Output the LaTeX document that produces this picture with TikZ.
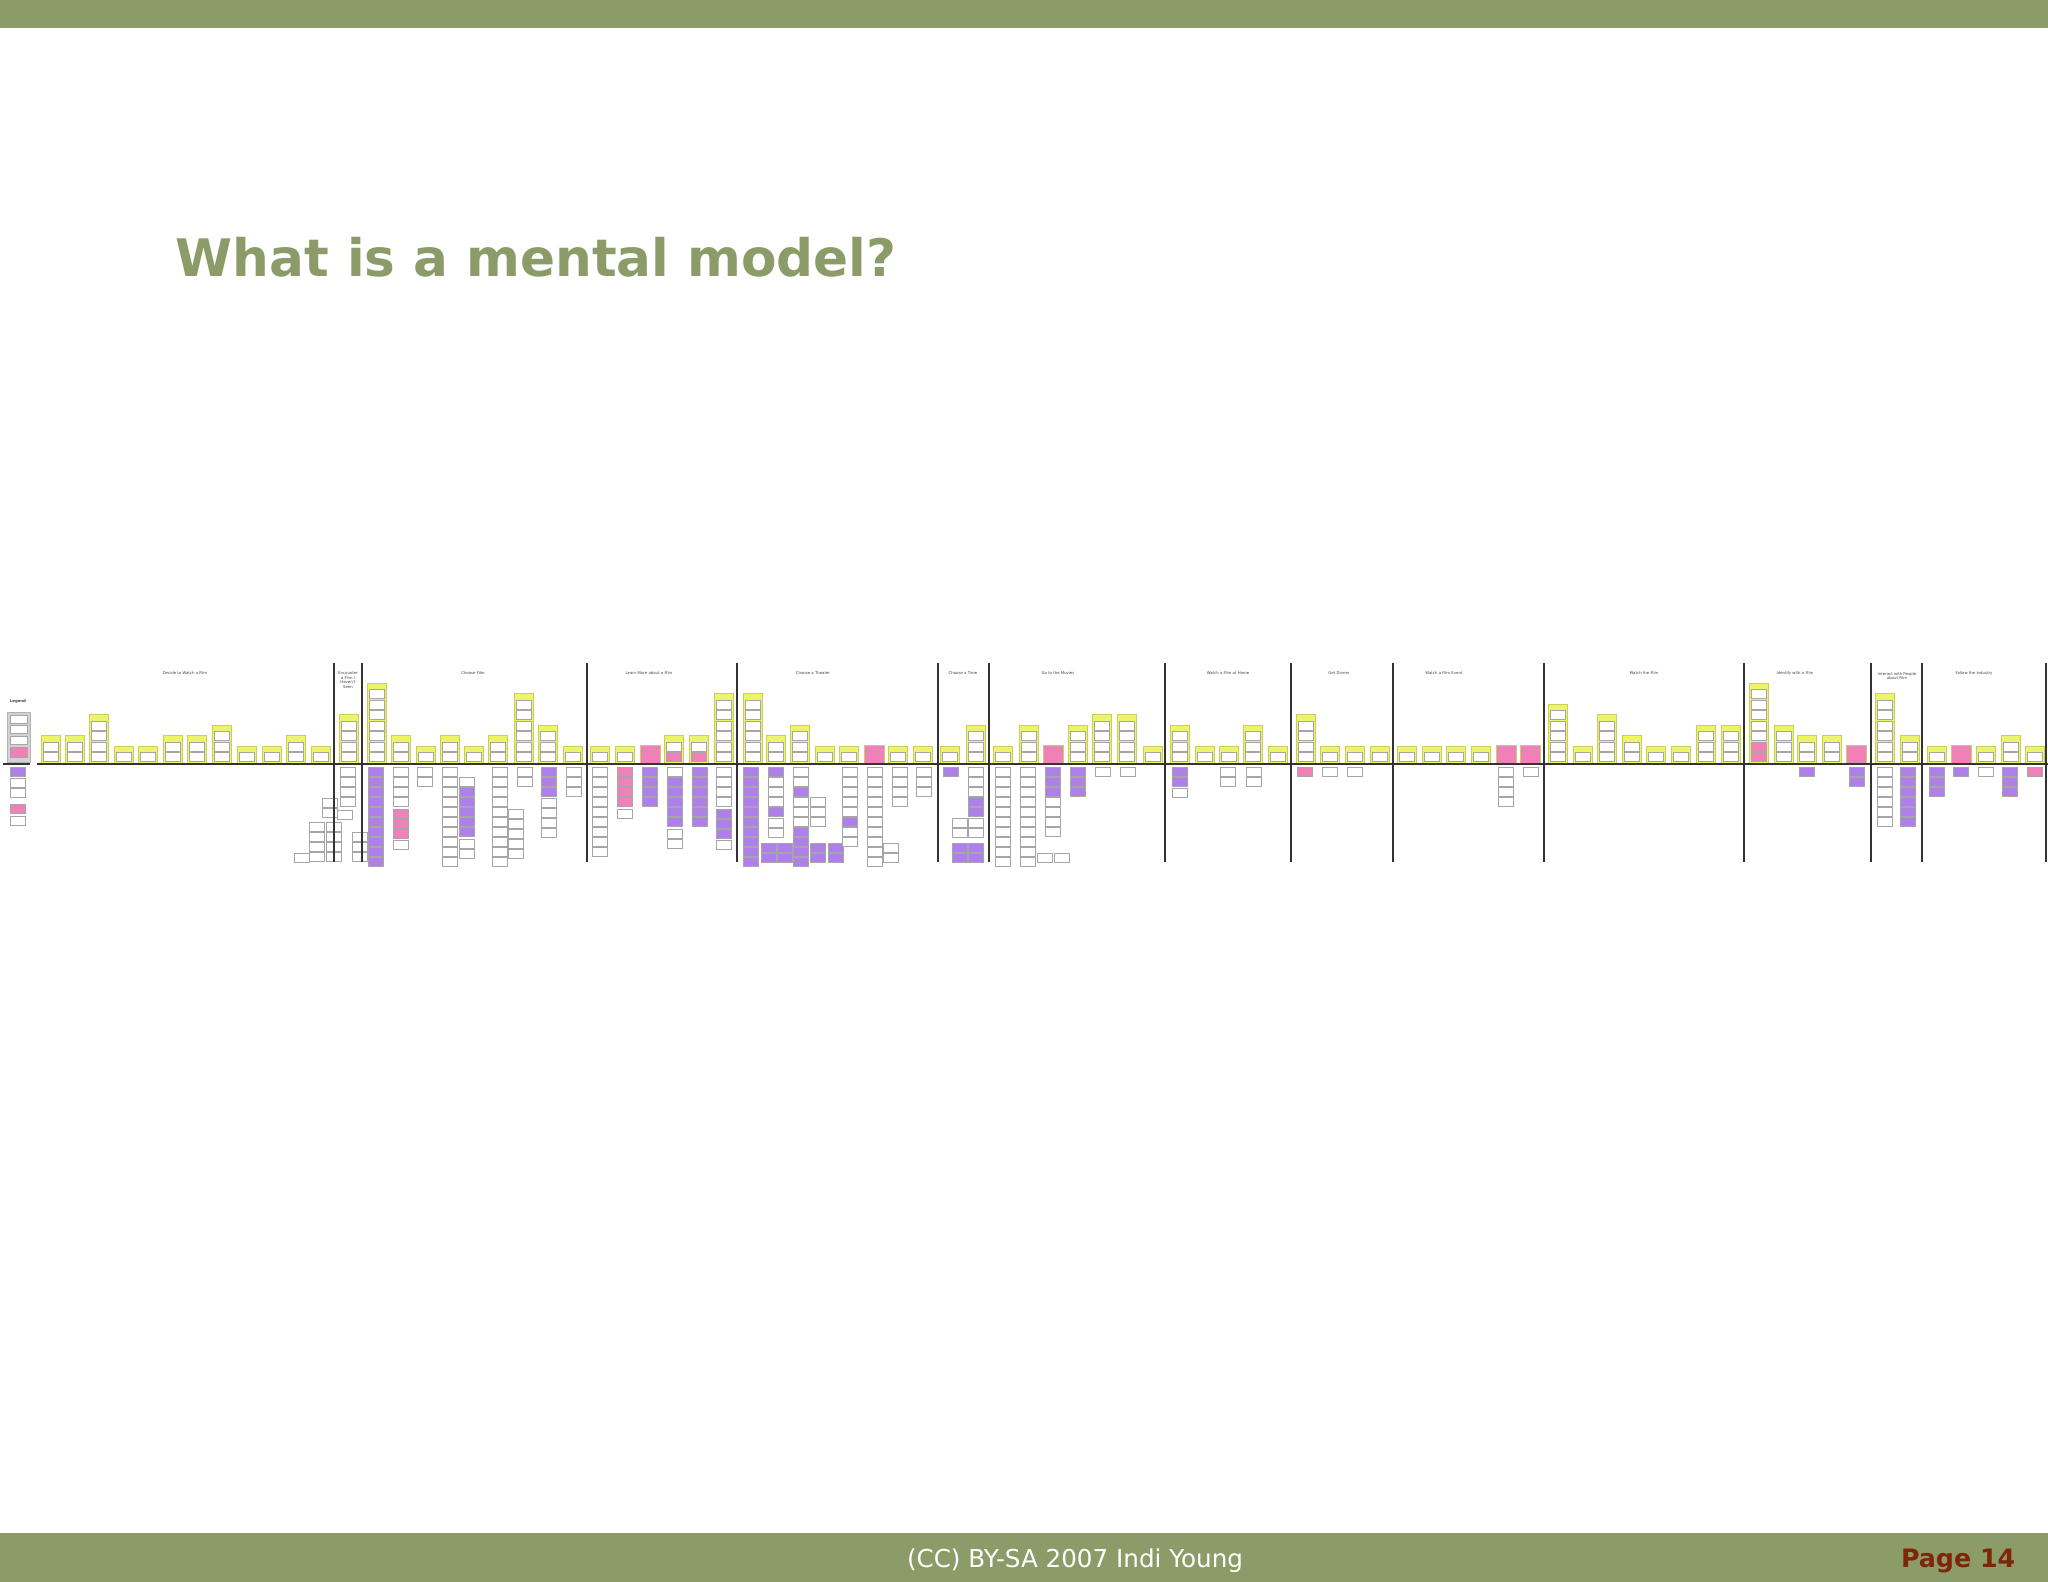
\documentclass[tikz,border=0pt]{standalone}
\usepackage{fontspec}
\setmainfont{DejaVu Sans}
\usetikzlibrary{calc}
\definecolor{slidegreen}{RGB}{139,156,104}
\definecolor{pagered}{RGB}{128,38,8}
\definecolor{hiyellow}{RGB}{238,244,105}
\definecolor{mmpurple}{RGB}{176,128,234}
\definecolor{mmpink}{RGB}{240,128,184}

\begin{document}
\begin{tikzpicture}
    [x=0.01cm,y=-0.01cm,%
      every node/.style={inner sep=0pt},%
      tower/.style={fill=hiyellow,draw=hiyellow!85!black,line width=0.2pt},%
      inbox/.style={fill=white,draw=gray!70,line width=0.15pt},%
      lowbox/.style={draw=gray!70,line width=0.15pt},%
      divider/.style={line width=0.6pt,black!80},%
      seclabel/.style={text=black!75,font=\fontsize{1.1}{1.3}\selectfont,align=center}]
    \useasboundingbox (0,0) rectangle (2048,1582);
    \fill[slidegreen] (0,0) rectangle (2048,28);
    \fill[slidegreen] (0,1533) rectangle (2048,1582);
    \node[anchor=west,text=slidegreen,font=\fontsize{14.7}{17}\selectfont\bfseries] (title) at (175,257) {What is a mental model?};
    \node[text=white,font=\fontsize{7}{8}\selectfont] (footer) at (1075,1561) {(CC) BY-SA 2007 Indi Young};
    \node[anchor=east,text=pagered,font=\fontsize{7.2}{8}\selectfont\bfseries] (pagenum) at (2016,1561) {Page 14};

    \node[seclabel,font=\fontsize{1.1}{1.3}\selectfont\bfseries] (legend) at (18,701) {Legend};
    \draw[fill=gray!35,draw=gray!60,line width=0.2pt] (7,712) rectangle (30,762);
    \foreach \i in {1,...,3}
      \draw[inbox] (10,{715+10.5*(\i-1)}) rectangle (27,{723+10.5*(\i-1)});
    \draw[lowbox,fill=mmpink] (10,747) rectangle (27,757);

    \foreach \x/\n in {41/2,65/2,89/4,114/1,138/1,163/2,187/2,212/3,237/1,262/1,286/2,311/1,
        339/4,367/7,391/2,416/1,440/2,464/1,488/2,514/6,538/3,563/1,590/1,615/1,664/2,689/2,
        714/6,743/6,766/2,790/3,815/1,839/1,888/1,913/1,940/1,966/3,993/1,1019/3,1068/3,
        1092/4,1117/4,1143/1,1170/3,1195/1,1219/1,1243/3,1268/1,1296/4,1320/1,1345/1,1370/1,
        1397/1,1422/1,1446/1,1471/1,1548/5,1573/1,1597/4,1622/2,1646/1,1671/1,1696/3,1721/3,
        1749/7,1774/3,1797/2,1822/2,1875/6,1900/2,1927/1,1976/1,2001/2,2025/1}
    {
      \pgfmathsetmacro{\ytop}{746-10.5*(\n-1)}
      \draw[tower] (\x,\ytop) rectangle ({\x+19},763);
      \foreach \i in {1,...,\n}
        \draw[inbox] ({\x+2},{761.5-10.5*(\i-1)}) rectangle ({\x+17},{752.5-10.5*(\i-1)});
    }
    \foreach \x in {640,864,1043,1496,1520,1846,1951}
      \draw[tower,fill=mmpink] (\x,745) rectangle ({\x+20},763);
    \foreach \x/\i in {664/1,689/1,1749/1,1749/2}
      \draw[inbox,fill=mmpink] ({\x+2},{761.5-10.5*(\i-1)}) rectangle ({\x+17},{752.5-10.5*(\i-1)});

    \foreach \x/\y/\n/\c in {10/767/1/mmpurple,10/778/2/white,10/804/1/mmpink,10/816/1/white,
        340/767/4/white,322/798/2/white,309/822/4/white,326/822/4/white,294/853/1/white,
        337/810/1/white,352/832/3/white,368/767/10/mmpurple,
        393/767/4/white,393/809/3/mmpink,393/840/1/white,417/767/2/white,442/767/10/white,
        459/777/1/white,459/787/5/mmpurple,459/839/2/white,492/767/10/white,508/809/5/white,
        517/767/2/white,541/767/3/mmpurple,541/798/4/white,566/767/3/white,
        592/767/9/white,617/767/4/mmpink,617/809/1/white,642/767/4/mmpurple,
        667/767/1/white,667/777/5/mmpurple,667/829/2/white,692/767/6/mmpurple,
        716/767/4/white,716/809/3/mmpurple,716/840/1/white,743/767/10/mmpurple,
        761/843/2/mmpurple,768/767/1/mmpurple,768/777/3/white,768/807/1/mmpurple,768/818/2/white,
        777/843/2/mmpurple,793/767/2/white,793/787/1/mmpurple,793/797/3/white,793/827/4/mmpurple,
        810/797/3/white,810/843/2/mmpurple,828/843/2/mmpurple,
        842/767/5/white,842/817/1/mmpurple,842/827/2/white,867/767/10/white,883/843/2/white,
        892/767/4/white,916/767/3/white,943/767/1/mmpurple,952/818/2/white,952/843/2/mmpurple,
        968/767/3/white,968/797/2/mmpurple,968/818/2/white,968/843/2/mmpurple,
        995/767/10/white,1020/767/10/white,1037/853/1/white,1045/767/3/mmpurple,1045/797/4/white,
        1054/853/1/white,1070/767/3/mmpurple,1095/767/1/white,1120/767/1/white,
        1172/767/2/mmpurple,1172/788/1/white,1220/767/2/white,1246/767/2/white,
        1297/767/1/mmpink,1322/767/1/white,1347/767/1/white,1498/767/4/white,1523/767/1/white,
        1799/767/1/mmpurple,1849/767/2/mmpurple,1877/767/6/white,1900/767/6/mmpurple,
        1929/767/3/mmpurple,1953/767/1/mmpurple,1978/767/1/white,2002/767/3/mmpurple,
        2027/767/1/mmpink}
    {
      \foreach \i in {1,...,\n}
        \draw[lowbox,fill=\c] (\x,{\y+10*(\i-1)}) rectangle ({\x+15},{\y+9+10*(\i-1)});
    }

    \draw[divider] (3,764) -- (30,764);
    \draw[divider] (37,764) -- (2048,764);
    \foreach \x in {334,362,587,737,938,989,1165,1291,1393,1544,1744,1871,1922,2046}
      \draw[divider] (\x,663) -- (\x,862);

    \foreach \x/\t [count=\i] in {185/Decide to Watch a Film,473/Choose Film,
        649/Learn More about a Film,813/Choose a Theater,963/Choose a Time,1058/Go to the Movies,
        1228/Watch a Film at Home,1339/Get Dinner,1444/Watch a Film Event,1644/Watch the Film,
        1795/Identify with a Film,1974/Follow the Industry}
      \node[seclabel] (sec\i) at (\x,673) {\t};
    \node[seclabel] (encounter) at (348,680) {Encounter\\a Film I\\Haven't\\Seen};
    \node[seclabel] (interact) at (1897,676) {Interact with People\\about Film};
\end{tikzpicture}
\end{document}
